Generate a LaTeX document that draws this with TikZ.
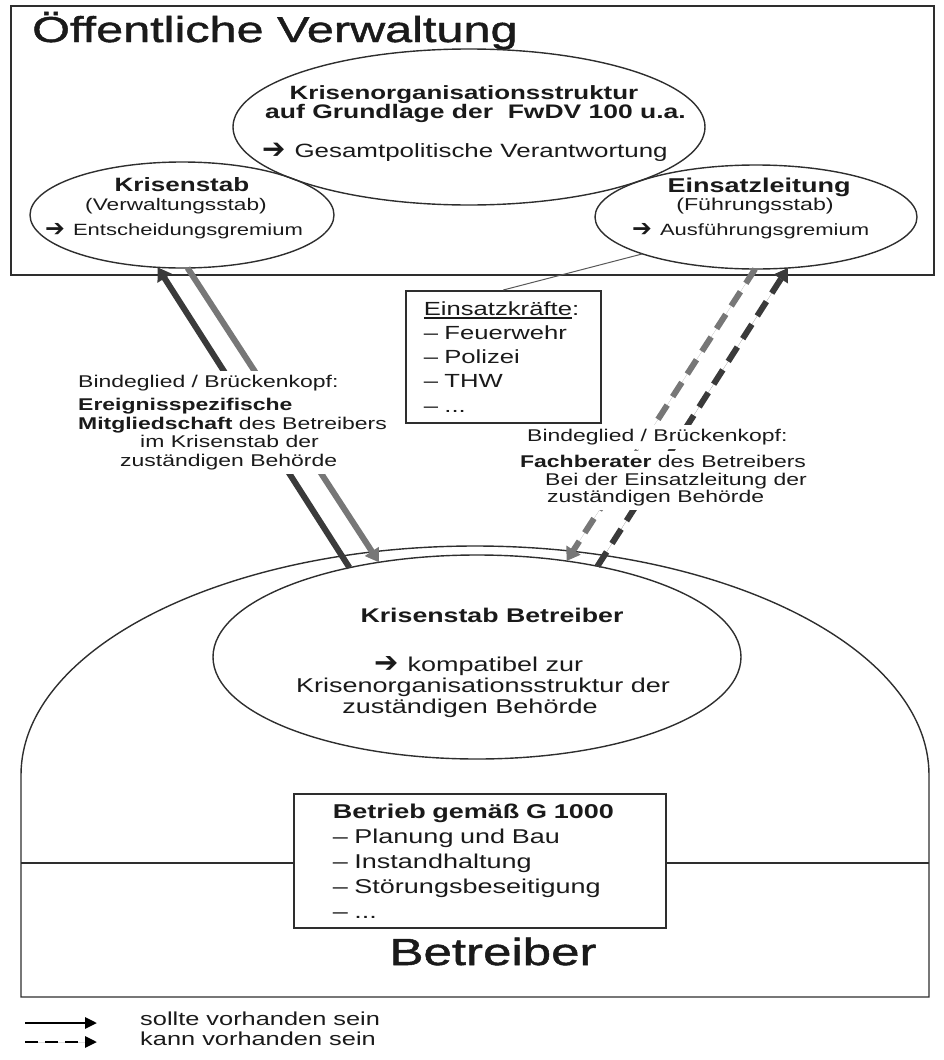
\documentclass[tikz,border=0pt]{standalone}
\usepackage{fontspec}
\setmainfont{Liberation Sans}[FakeStretch=1.35]
\newfontfamily\medfont{Liberation Sans}[FakeStretch=1.35, FakeBold=1.3]
\newfontfamily\arrfont{DejaVu Sans}
\usetikzlibrary{shapes.geometric,arrows.meta}
\definecolor{linec}{HTML}{2E2E2E}
\definecolor{darkarr}{HTML}{3A3A3A}
\definecolor{greyarr}{HTML}{777777}
\definecolor{txtc}{HTML}{1A1A1A}
\newcommand{\myul}[1]{\setbox0\hbox{#1}\rlap{\rule[-3.5pt]{\wd0}{2pt}}\box0}
\newcommand{\harr}{\smash{\raisebox{-0.5pt}{\scalebox{1.45}{\arrfont ➔}}}}
\tikzset{
  frame/.style={draw=linec, line width=1.6pt},
  ell/.style={ellipse, draw=linec, line width=1.4pt, inner sep=0pt, outer sep=0pt},
  txt/.style={inner sep=0pt, anchor=mid, text=txtc},
  txtl/.style={inner sep=0pt, anchor=mid west, text=txtc},
  hdf/.style={font=\fontsize{#1}{22}\selectfont\bfseries},
  rgf/.style={font=\fontsize{#1}{22}\selectfont},
  lbl/.style={fill=white, inner xsep=3pt, inner ysep=4pt, text=txtc, font=\fontsize{17}{18.7}\selectfont},
  listbox/.style={draw=linec, line width=1.6pt, anchor=north west, align=left, inner ysep=0pt, text=txtc},
  solidarr/.style={line width=6pt, -{Triangle[length=13pt,width=16pt]}},
  dasharr/.style={solidarr, dash pattern=on 17pt off 10pt},
  legarr/.style={line width=2.7pt, draw=black, -{Triangle[length=12pt,width=11pt]}},
}
\begin{document}
\begin{tikzpicture}[x=1pt,y=-1pt]
\useasboundingbox (0,0) rectangle (943,1060);

% Oeffentliche Verwaltung frame
\draw[frame] (11,6) rectangle (934,275);
\node (title) [anchor=base west, inner sep=0pt, text=txtc, font=\medfont\fontsize{36}{40}\selectfont] at (32,42) {Öffentliche Verwaltung};

% ellipses
\node (ktop) [ell, minimum width=472pt, minimum height=156pt] at (469,127) {};
\node (ks)   [ell, minimum width=304pt, minimum height=106pt] at (182,215) {};
\node (el)   [ell, minimum width=322pt, minimum height=104pt] at (756,217) {};

\node (t1) [txt, hdf=19.2] at (464,97) {Krisenorganisationsstruktur};
\node (t2) [txt, hdf=19.6] at (475.5,116) {auf Grundlage der~~FwDV 100 u.a.};
\node (t3) [txtl, rgf=19.2] at (262,155) {\harr\hspace{9pt}Gesamtpolitische Verantwortung};

\node (k1) [txt, hdf=19.3] at (182,189) {Krisenstab};
\node (k2) [txt, rgf=16.8] at (176,208) {(Verwaltungsstab)};
\node (k3) [txtl, rgf=16.3] at (45,233) {\harr\hspace{8pt}Entscheidungsgremium};

\node (e1) [txt, hdf=20] at (759,190) {Einsatzleitung};
\node (e2) [txt, rgf=17.2] at (755,208) {(Führungsstab)};
\node (e3) [txtl, rgf=16.3] at (632,233) {\harr\hspace{8pt}Ausführungsgremium};

% Einsatzkraefte box
\node (ek) [listbox, minimum width=195pt, minimum height=132pt, text width=159pt, inner xsep=18pt, font=\fontsize{19}{24.25}\selectfont] at (405,290)
  {\myul{Einsatzkräfte}:\\– Feuerwehr\\– Polizei\\– THW\\– ...};
\draw[line width=1pt, draw=linec!80] (el.198) -- (ek.north);

% Betreiber shape
\draw[frame, line width=1.4pt] (21,997) -- (21,775) arc[start angle=180, end angle=360, x radius=454, y radius=229] -- (929,997) -- cycle;
\node (ksb) [ell, minimum width=528pt, minimum height=204pt] at (477,657) {};
\node (b1) [txt, hdf=19.8] at (492,620) {Krisenstab Betreiber};
\node (b2) [txtl, rgf=20] at (374,669) {\harr\hspace{9pt}kompatibel zur};
\node (b3) [txt, rgf=20] at (483,690) {Krisenorganisationsstruktur der};
\node (b4) [txt, rgf=20] at (470,711) {zuständigen Behörde};

\node (bg) [listbox, minimum width=372pt, minimum height=134pt, text width=294pt, inner xsep=39pt, font=\fontsize{20}{25}\selectfont] at (293,793)
  {\textbf{Betrieb gemäß G 1000}\\– Planung und Bau\\– Instandhaltung\\– Störungsbeseitigung\\– ...};
\coordinate (dl) at (21,863);
\coordinate (dr) at (929,863);
\draw[linec, line width=1.4pt] (dl) -- (dl -| bg.west);
\draw[linec, line width=1.4pt] (dr -| bg.east) -- (dr);
\node (betr) [anchor=base, inner sep=0pt, text=txtc, font=\medfont\fontsize{37.8}{40}\selectfont] at (493,965) {Betreiber};

% connectors
\draw[solidarr, draw=darkarr, fill=darkarr] (ksb.145.4) -- (ks.245.6);
\draw[solidarr, draw=greyarr, fill=greyarr] (ks.276.5) -- (ksb.136.8);
\draw[dasharr, draw=greyarr, fill=greyarr] (el.269) -- (ksb.47.2);
\draw[dasharr, draw=darkarr, fill=darkarr] (ksb.37.8) -- (el.302);

% labels on connectors
\node (lh) [lbl, anchor=mid west] at (75,385) {Bindeglied / Brückenkopf:};
\node (lb) [lbl, anchor=north west, align=left] at (75,394)
  {\textbf{Ereignisspezifische}\\\textbf{Mitgliedschaft} des Betreibers\\\hspace*{62pt}im Krisenstab der\\\hspace*{42pt}zuständigen Behörde};
\node (rh) [lbl, anchor=mid west] at (524,439) {Bindeglied / Brückenkopf:};
\node (rb) [lbl, anchor=north west, align=left, font=\fontsize{17}{17.5}\selectfont] at (517,451)
  {\textbf{Fachberater} des Betreibers\\\hspace*{25pt}Bei der Einsatzleitung der\\\hspace*{27pt}zuständigen Behörde};

% legend
\coordinate (l1a) at (25,1023);
\coordinate (l1b) at (97,1023);
\coordinate (l2a) at (25,1042);
\coordinate (l2b) at (97,1042);
\draw[legarr, fill=black] (l1a) -- (l1b);
\draw[legarr, fill=black, dash pattern=on 13pt off 7pt] (l2a) -- (l2b);
\node (lg1) [txtl, rgf=18.8] at (140,1023) {sollte vorhanden sein};
\node (lg2) [txtl, rgf=18.8] at (140,1043) {kann vorhanden sein};
\end{tikzpicture}
\end{document}
